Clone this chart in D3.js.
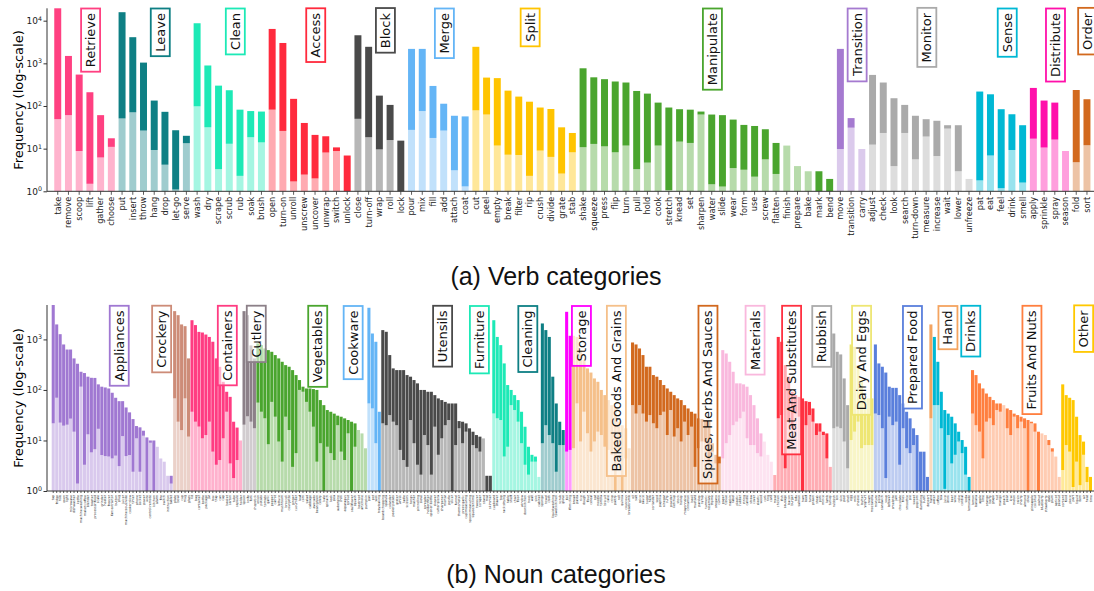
<!DOCTYPE html>
<html>
<head>
<meta charset="utf-8">
<script src="https://cdn.jsdelivr.net/npm/d3@7"></script>
<style>
  body { margin: 0; background: #fff; }
  svg text { font-family: "DejaVu Sans", sans-serif; }
  svg text.title { font-family: "Liberation Sans", Arial, sans-serif; }
</style>
</head>
<body>
<svg id="chart" width="1094" height="591"></svg>
<script>
'use strict';

// ---- verbs: grouped by category, totals and the lighter (lower) part
const verbCategories = ['Retrieve', 'Leave', 'Clean', 'Access', 'Block', 'Merge', 'Split',
  'Manipulate', 'Transition', 'Monitor', 'Sense', 'Distribute', 'Order'];

const verbNames = [
  ['take', 'remove', 'scoop', 'lift', 'gather', 'choose'],
  ['put', 'insert', 'throw', 'hang', 'drop', 'let-go', 'serve'],
  ['wash', 'dry', 'scrape', 'scrub', 'rub', 'soak', 'brush'],
  ['open', 'turn-on', 'unroll', 'unscrew', 'uncover', 'unwrap', 'switch', 'unlock'],
  ['close', 'turn-off', 'wrap', 'roll', 'lock'],
  ['pour', 'mix', 'fill', 'add', 'attach', 'coat'],
  ['cut', 'peel', 'empty', 'break', 'filter', 'rip', 'crush', 'divide', 'grate', 'stab'],
  ['shake', 'squeeze', 'press', 'flip', 'turn', 'pull', 'hold', 'cook', 'stretch', 'knead', 'set',
    'sharpen', 'water', 'slide', 'wear', 'form', 'use', 'screw', 'flatten', 'finish', 'prepare',
    'bake', 'mark', 'bend'],
  ['move', 'transition', 'carry'],
  ['adjust', 'check', 'look', 'search', 'turn-down', 'measure', 'increase', 'wait', 'lower', 'unfreeze'],
  ['pat', 'eat', 'feel', 'drink', 'smell'],
  ['apply', 'sprinkle', 'spray', 'season'],
  ['fold', 'sort']
];

const verbTotal = [
  [19500, 1490, 545, 210, 61, 17.5],
  [15800, 4100, 1040, 134, 73, 27, 20],
  [8700, 890, 300, 234, 82, 76, 74],
  [6400, 3000, 147, 40, 21, 19.5, 10.7, 6.9],
  [4550, 2440, 175, 106, 15.4],
  [2180, 2180, 295, 113, 59, 57],
  [2440, 463, 450, 229, 166, 126, 92, 85, 31.6, 23.3],
  [765, 470, 425, 375, 355, 225, 195, 120, 92, 84, 82, 74, 63, 61, 48, 36, 34, 28.5, 13.6, 11.8,
    3.9, 2.95, 2.95, 1.95],
  [2180, 52, 9.8],
  [535, 355, 152, 106, 59, 49, 45, 35.4, 35.4, 1.95],
  [218, 188, 84, 64, 35.4],
  [265, 134, 120, 8.8],
  [237, 144]
];

const verbLight = [
  [49, 61, 8.8, 1.5, 6.2, 11],
  [51, 71, 26.5, 9.3, 4.2, 1.1, 13.4],
  [98, 31.6, 3.3, 13, 2.3, 18.5, 14],
  [82, 26, 1.7, 2.46, 2.0, 8.1, 8.8, 1],
  [50, 18.5, 9.6, 15.9, 1],
  [27.5, 76, 17.8, 26.5, 3.1, 1.3],
  [79, 63, 11.8, 7.2, 7.1, 2.3, 9.0, 6.4, 2.6, 8.2],
  [10.8, 12.9, 11.3, 8.2, 11.8, 3.3, 4.7, 11.8, 1.07, 14.6, 13.6, 63, 1.46, 1.29, 3.5, 3.2, 2.2,
    5.6, 2.55, 11.8, 3.9, 2.95, 1, 1],
  [9.8, 31, 9.8],
  [12.4, 23.3, 3.9, 23.3, 5.6, 19.2, 6.7, 29.5, 2.95, 1.95],
  [1.8, 6.9, 1.18, 9.3, 1.6],
  [17.1, 10.6, 16.3, 8.8],
  [4.8, 12]
];

// ---- nouns
const nounCategories = ['Appliances', 'Crockery', 'Containers', 'Cutlery', 'Vegetables', 'Cookware',
  'Utensils', 'Furniture', 'Cleaning', 'Storage', 'Baked Goods And Grains', 'Spices, Herbs And Sauces',
  'Materials', 'Meat And Substitutes', 'Rubbish', 'Dairy And Eggs', 'Prepared Food', 'Hand', 'Drinks',
  'Fruits And Nuts', 'Other'];

const nounNames = [
  ['tap', 'fridge', 'hob', 'oven', 'light', 'microwave', 'dishwasher', 'kettle', 'machine:washing',
    'maker:coffee', 'blender', 'toaster', 'processor:food', 'scale', 'grinder', 'heater', 'freezer',
    'fan:extractor', 'button', 'plug', 'juicer', 'machine:sous:vide', 'cooker:slow', 'timer', 'phone',
    'socket', 'power', 'wire', 'control:remote', 'kitchen', 'alarm', 'fire', 'switch', 'instruction', 'tablet'],
  ['plate', 'bowl', 'cup', 'mug', 'glass'],
  ['lid', 'bag', 'container', 'bottle', 'package', 'jar', 'box', 'tray', 'can', 'cap', 'basket',
    'carton', 'tube', 'capsule', 'holder'],
  ['spoon', 'knife', 'fork', 'chopstick'],
  ['onion', 'potato', 'tomato', 'garlic', 'pepper', 'carrot', 'lettuce', 'mushroom', 'broccoli',
    'courgette', 'ginger', 'cucumber', 'leaf', 'corn', 'salad', 'cabbage', 'avocado', 'bean:green',
    'celery', 'kale', 'spinach', 'leek', 'pea', 'aubergine', 'chilli', 'asparagus', 'sprout',
    'cauliflower', 'squash', 'beetroot', 'artichoke', 'pumpkin'],
  ['pan', 'pot', 'wok', 'tray:baking'],
  ['board:chopping', 'spatula', 'colander', 'peeler:potato', 'grater', 'whisk', 'ladle', 'scissors',
    'tongs', 'masher', 'pin:rolling', 'sieve', 'spreader', 'holder:filter', 'opener:bottle', 'skewer',
    'cutter:pizza', 'sharpener', 'mortar', 'pestle', 'slicer', 'funnel', 'thermometer', 'press:garlic',
    'cup:measuring', 'spoon:measuring', 'squeezer:lime', 'tweezer', 'scraper', 'stand', 'mat', 'skimmer'],
  ['cupboard', 'drawer', 'top', 'rack:drying', 'table', 'shelf', 'chair', 'floor', 'window',
    'door:kitchen', 'hook', 'wall', 'sink', 'cabinet'],
  ['sponge', 'towel', 'cloth', 'liquid:washing', 'towel:kitchen', 'scrub', 'glove'],
  ['foil', 'film:cling'],
  ['bread', 'pasta', 'rice', 'dough', 'flour', 'cereal', 'oat', 'noodle', 'tortilla', 'biscuit',
    'cake', 'crisp', 'pastry', 'roll', 'quinoa', 'couscous', 'breadcrumb'],
  ['oil', 'salt', 'spice', 'sauce', 'sugar', 'herb', 'coriander', 'seed', 'paprika', 'vinegar',
    'curry', 'powder', 'ketchup', 'stock', 'honey', 'mayonnaise', 'cinnamon', 'basil', 'mustard',
    'parsley', 'syrup', 'turmeric', 'rosemary', 'thyme', 'oregano', 'cumin'],
  ['paper', 'tissue', 'napkin', 'label', 'plastic', 'rubber', 'string', 'candle', 'straw', 'cover',
    'elastic', 'wood', 'cork', 'ring', 'card'],
  ['meat', 'chicken', 'fish', 'sausage', 'bacon', 'burger', 'tofu', 'salmon', 'ham', 'beef', 'tuna',
    'prawn', 'steak', 'pork', 'mince', 'lamb', 'turkey'],
  ['rubbish', 'bin', 'skin', 'peel', 'shell'],
  ['egg', 'milk', 'cheese', 'butter', 'yoghurt', 'cream', 'mozzarella'],
  ['mixture', 'pizza', 'sandwich', 'soup', 'leftover', 'omelette', 'jam', 'chocolate', 'fries',
    'smoothie', 'pie', 'sweet', 'popcorn', 'dumpling', 'sushi', 'dessert'],
  ['hand'],
  ['water', 'coffee', 'tea', 'juice', 'drink', 'beer', 'wine', 'coke', 'cordial', 'soda', 'lemonade'],
  ['lemon', 'banana', 'apple', 'lime', 'orange', 'berry', 'grape', 'nut', 'mango', 'peach', 'pear',
    'kiwi', 'melon', 'raisin', 'cherry', 'almond', 'olive', 'pineapple', 'coconut', 'walnut',
    'blueberry', 'strawberry', 'date', 'plum', 'apricot', 'peanut'],
  ['content', 'food', 'piece', 'part', 'liquid', 'item', 'air', 'heat', 'time']
];

const nounTotal = [
  [4800, 1980, 1270, 795, 631, 631, 421, 330, 229, 216, 183, 174, 173, 129, 116, 112, 107, 88, 70, 60,
    60, 45, 36, 26.5, 19.3, 18.2, 15.6, 11.5, 10, 10, 7.5, 4.4, 3.8, 2.0, 2.0],
  [3630, 3020, 1980, 1830, 421],
  [2400, 1920, 1410, 1370, 1250, 1120, 900, 421, 287, 145, 92, 73, 23.5, 18, 10],
  [3630, 3020, 760, 421],
  [832, 771, 662, 614, 569, 490, 421, 361, 310, 288, 247, 197, 157, 116, 107, 107, 104, 100, 63, 50,
    40, 37, 34, 31, 29.5, 27.4, 25.4, 23.5, 21.8, 16.1, 13.8, 7],
  [4230, 1310, 898, 37],
  [1528, 1415, 490, 267, 247, 247, 247, 197, 183, 157, 135, 100, 100, 92, 92, 79, 68, 63, 58, 54,
    54, 54, 24.2, 23.5, 21.8, 17.4, 14.9, 12.8, 11.9, 11, 2.0, 2.0],
  [2400, 1120, 771, 335, 125, 100, 79, 63, 37, 18.7, 7.5, 5.2, 4.8, 1.9],
  [2070, 1530, 1120, 183, 54, 23.5, 16.1],
  [3520, 1180],
  [1180, 1120, 614, 390, 267, 221, 169, 145, 100, 79, 63, 50, 46.5, 23.5, 20, 17.4, 7],
  [870, 795, 662, 490, 288, 288, 197, 183, 157, 125, 107, 92, 79, 68, 63, 50, 43, 37, 34, 27.4,
    26.6, 25.4, 24.2, 8.8, 5.2, 4.8],
  [614, 527, 361, 229, 135, 135, 129, 116, 79, 50, 27.4, 13.8, 9.5, 5.2, 3.8],
  [2.07, 1120, 898, 310, 183, 92, 79, 73, 68, 60, 58, 43, 21.8, 21.8, 14.9, 13.8, 3.0],
  [1310, 569, 505, 169, 50],
  [795, 715, 310, 157, 68, 68, 68],
  [795, 335, 288, 221, 116, 110, 110, 79, 54, 37, 27.4, 17.4, 12.8, 6, 6, 1.9],
  [1980],
  [1120, 361, 92, 40, 34, 29.5, 21.8, 14.9, 10.2, 7.5, 1.9],
  [247, 197, 135, 107, 85, 73, 63, 54, 54, 50, 43, 40, 34, 31.8, 29.5, 27.4, 25.4, 23.5, 21.8, 14.9,
    13.8, 12.8, 10.2, 7, 4.8, 1.9],
  [129, 79, 70, 63, 29.5, 12.8, 9.5, 3.0, 1.9]
];

const nounLight = [
  [21.8, 70, 22.5, 19.6, 20.5, 27, 14.9, 1.4, 116, 3.3, 13.2, 5.8, 6.7, 17, 5.15, 4.9, 4.8, 4.4, 5, 3.1,
    12.2, 4.9, 5.15, 2.4, 11, 2.4, 12.4, 1, 9, 1, 7.5, 4.4, 3.8, 2.0, 1.4],
  [68, 23.5, 16, 68, 11.9],
  [37, 23.5, 18.8, 11, 12.8, 23.5, 6, 3.3, 4.1, 11, 37, 3.5, 1.8, 4.1, 10],
  [20.5, 30, 23.5, 17.4],
  [56, 37, 27.4, 8.4, 58, 29.5, 9.5, 3.8, 29.5, 16.1, 3.0, 5.6, 100, 92, 58, 37, 18.7, 3.8, 8.8, 1,
    7.5, 5.6, 4.1, 20, 6.0, 4.1, 13.8, 1, 7.5, 16.1, 13.8, 7],
  [54, 43, 8.8, 1],
  [21.8, 20, 31.8, 23.5, 20, 6.5, 4.1, 3.0, 25.4, 8.8, 3.3, 2.1, 12.8, 8.1, 2.1, 18.7, 5.2, 11, 20, 25.4,
    1, 8.1, 17.4, 8.8, 14.9, 1, 8.1, 7, 6, 11, 1, 1],
  [34.2, 27.4, 25.4, 4.8, 7.5, 50, 40, 23.5, 8.8, 3.3, 2.1, 3.8, 3.8, 1.9],
  [8.8, 20, 12.8, 8.8, 2.4, 8.1, 8.1],
  [6, 6.5],
  [7, 54, 9.5, 37, 13.8, 6, 9.5, 14.9, 12.8, 7.5, 6.5, 5.2, 1, 6, 1, 4.4, 7],
  [50, 34, 50, 34, 23.5, 31.8, 21.8, 17.4, 31.8, 37, 12.8, 40, 11.9, 17.4, 9.5, 23.5, 12.8, 18.7, 3.0, 7,
    9.5, 9.5, 3.8, 6, 3.5, 3.5],
  [4.4, 8.8, 12.8, 20, 23.5, 27.4, 37, 11, 8.1, 8.1, 5.6, 4.8, 9.5, 5.2, 3.8],
  [2.07, 27.4, 31.8, 2.8, 23.5, 17.4, 34, 29.5, 1, 20, 31.8, 23.5, 12.8, 14.9, 12.8, 4.4, 3.0],
  [17.4, 18.7, 17.4, 9.5, 2.8],
  [10.2, 14.9, 23.5, 7, 8.1, 8.1, 8.1],
  [34, 31.8, 17.4, 1.8, 29.5, 20, 23.5, 3.3, 17.4, 7, 5.6, 8.1, 1, 1, 1, 1],
  [27.4],
  [50, 50, 17.4, 1.1, 12.8, 3.5, 5.2, 9.5, 5.6, 2.1, 1],
  [34, 20, 14.9, 4.4, 23.5, 27.4, 20, 40, 37, 50, 17.4, 12.8, 29.5, 17.4, 23.5, 17.4, 1, 21.8, 14.9, 1,
    13.8, 12.8, 8.1, 6, 4.8, 1.9],
  [2.6, 8.1, 6, 1.2, 3.8, 1.3, 5.2, 1.5, 1]
];

const logTicks = [1, 10, 100, 1000, 10000];

// ---- styles
const verbColors = ['#ff4081', '#0e7f84', '#1de9b6', '#ff2a3d', '#4a4a4a', '#64b5f6', '#ffc400',
  '#4aa52e', '#a57ad0', '#aaaaaa', '#00b8d4', '#ff10aa', '#d2691e'];
const nounColors = ['#a078d2', '#cd8c78', '#ff3c82', '#8c8088', '#4aa52e', '#64b5f6', '#4a4a4a',
  '#1de9b6', '#0e7f84', '#ff00ff', '#f5c08a', '#d2691e', '#f9b8dd', '#ff3040', '#aaaaaa', '#eee673',
  '#5a7fdc', '#f4a460', '#00b8d4', '#ff7f3f', '#ffc800'];
// manual nudges of the category boxes (px), as in the original
const nounLabelShift = [7, -20, 11, 7, 6, -21, 6, -37, -25, 13, 15, 32, 8, -11, -19, 0, 11, 17, 19, 16, 7];

const svg = d3.select('#chart');

drawPanel({
  names: verbNames, total: verbTotal, light: verbLight, cats: verbCategories, colors: verbColors,
  xRange: [50.5, 1094.2], padInner: 0.35, padOuter: 0.35,
  yRange: [191.3, 8.3], axisX: 47, tickLen: 3.5, tickFont: 8.2,
  labelTop: 8.5, shift: () => 6, yLabelY: 100,
  title: '(a) Verb categories', titleY: 285
});

drawPanel({
  names: nounNames, total: nounTotal, light: nounLight, cats: nounCategories, colors: nounColors,
  xRange: [51.7, 1092], padInner: 0.12, padOuter: 0,
  yRange: [491, 305], axisX: 47, tickLen: 2, tickFont: 3.2,
  labelTop: 306, shift: c => nounLabelShift[c], yLabelY: 398,
  title: '(b) Noun categories', titleY: 583
});

function drawPanel(p) {
  const rows = [];
  p.names.forEach((list, c) => list.forEach((name, i) => rows.push({
    idx: rows.length, name, cat: c, total: p.total[c][i], light: p.light[c][i]
  })));

  const x = d3.scaleBand()
    .domain(rows.map(d => d.idx))
    .range(p.xRange)
    .paddingInner(p.padInner)
    .paddingOuter(p.padOuter);
  const y = d3.scaleLog()
    .domain([1, d3.max(rows, d => d.total)])
    .range(p.yRange);
  const pale = c => d3.interpolateRgb('#ffffff', p.colors[c])(0.4);

  const g = svg.append('g');

  // lower (light) part of each bar
  g.append('g').selectAll('rect')
    .data(rows.filter(d => d.light > 1))
    .join('rect')
    .attr('x', d => x(d.idx))
    .attr('width', x.bandwidth())
    .attr('y', d => y(d.light))
    .attr('height', d => y(1) - y(d.light))
    .attr('fill', d => pale(d.cat));

  // upper (dark) part
  g.append('g').selectAll('rect')
    .data(rows.filter(d => d.total > d.light))
    .join('rect')
    .attr('x', d => x(d.idx))
    .attr('width', x.bandwidth())
    .attr('y', d => y(d.total))
    .attr('height', d => y(d.light) - y(d.total))
    .attr('fill', d => p.colors[d.cat]);

  // x axis with rotated names
  const xa = g.append('g')
    .attr('transform', `translate(0,${p.yRange[0]})`)
    .call(d3.axisBottom(x).tickSize(p.tickLen).tickFormat(i => rows[i].name));
  xa.select('.domain').remove();
  xa.attr('font-family', null).attr('font-size', null);
  xa.selectAll('.tick line').attr('stroke', '#333').attr('stroke-width', 0.8);
  xa.selectAll('.tick text')
    .attr('transform', 'rotate(-90)')
    .attr('x', -(p.tickLen + 2))
    .attr('y', 0)
    .attr('dy', '0.35em')
    .attr('text-anchor', 'end')
    .attr('fill', '#222')
    .style('font-size', `${p.tickFont}px`);

  // y axis, log ticks as 10^n
  const ya = g.append('g')
    .attr('transform', `translate(${p.axisX},0)`)
    .call(d3.axisLeft(y)
      .tickValues(logTicks.filter(v => v <= y.domain()[1]))
      .tickSize(3.5)
      .tickFormat(() => ''));
  ya.select('.domain').remove();
  ya.attr('font-family', null).attr('font-size', null);
  ya.selectAll('.tick line').attr('stroke', '#333');
  ya.selectAll('.tick text')
    .attr('x', -5)
    .attr('dy', '0.3em')
    .attr('fill', '#222')
    .style('font-size', '9px')
    .text('10')
    .append('tspan')
    .attr('dy', '-0.5em')
    .style('font-size', '6.3px')
    .text(d => Math.round(Math.log10(d)));

  // spines
  g.append('line')
    .attr('x1', p.axisX).attr('x2', p.axisX)
    .attr('y1', p.yRange[1]).attr('y2', p.yRange[0])
    .attr('stroke', '#333').attr('stroke-width', 1);
  g.append('line')
    .attr('x1', p.axisX).attr('x2', 1094)
    .attr('y1', p.yRange[0]).attr('y2', p.yRange[0])
    .attr('stroke', '#333').attr('stroke-width', 1);

  g.append('text')
    .attr('transform', `translate(18,${p.yLabelY}) rotate(-90)`)
    .attr('text-anchor', 'middle')
    .attr('dy', '0.35em')
    .style('font-size', '13px')
    .text('Frequency (log-scale)');

  // category boxes
  p.cats.forEach((name, c) => {
    const members = rows.filter(d => d.cat === c);
    const cx = d3.mean(members, d => x(d.idx) + x.bandwidth() / 2) + p.shift(c);
    const lg = g.append('g')
      .attr('transform', `translate(${cx},${p.labelTop}) rotate(-90)`);
    const box = lg.append('rect');
    const t = lg.append('text')
      .attr('x', -4.5)
      .attr('dy', '0.35em')
      .attr('text-anchor', 'end')
      .attr('fill', '#111')
      .style('font-size', '13px')
      .text(name);
    const bb = t.node().getBBox();
    box.attr('x', bb.x - 4.5)
      .attr('y', bb.y - 2)
      .attr('width', bb.width + 9)
      .attr('height', bb.height + 4)
      .attr('fill', '#fff')
      .attr('fill-opacity', 0.6)
      .attr('stroke', p.colors[c])
      .attr('stroke-width', 1.8);
  });

  svg.append('text')
    .attr('class', 'title')
    .attr('x', 556)
    .attr('y', p.titleY)
    .attr('text-anchor', 'middle')
    .style('font-size', '25px')
    .attr('fill', '#111')
    .text(p.title);
}
</script>
</body>
</html>
